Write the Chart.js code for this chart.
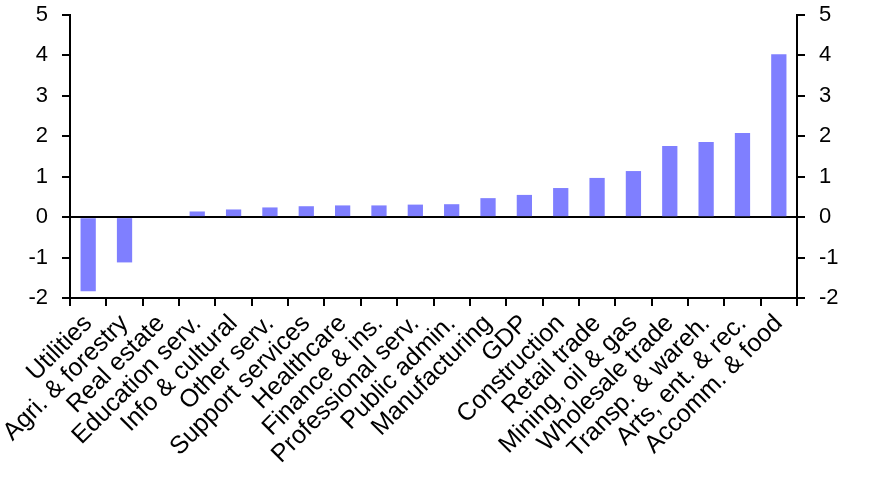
<!DOCTYPE html>
<html>
<head>
<meta charset="utf-8">
<script src="https://cdn.jsdelivr.net/npm/chart.js@4/dist/chart.umd.min.js"></script>
<style>
html,body{margin:0;padding:0;background:#fff;}
#wrap{width:871px;height:481px;}
</style>
</head>
<body>
<div id="wrap"><canvas id="c" width="871" height="481"></canvas></div>
<script>
const categories = ["Utilities","Agri. & forestry","Real estate","Education serv.","Info & cultural","Other serv.","Support services","Healthcare","Finance & ins.","Professional serv.","Public admin.","Manufacturing","GDP","Construction","Retail trade","Mining, oil & gas","Wholesale trade","Transp. & wareh.","Arts, ent. & rec.","Accomm. & food"];
const values = [-1.83,-1.12,0,0.14,0.19,0.24,0.27,0.29,0.29,0.31,0.32,0.47,0.55,0.72,0.97,1.14,1.76,1.86,2.08,4.03];
const yTicks = [-2,-1,0,1,2,3,4,5];

const fontFam = "'Liberation Sans', Arial, sans-serif";
new Chart(document.getElementById('c'), {
  type: 'bar',
  data: {
    labels: categories,
    datasets: [{data: values, backgroundColor: '#7f7fff', categoryPercentage: 1, barPercentage: 0.42, yAxisID: 'y'}]
  },
  options: {
    responsive: false,
    animation: false,
    devicePixelRatio: 1,
    layout: {padding: {left: 4, right: 0, top: 15, bottom: 0}},
    plugins: {legend: {display: false}, tooltip: {enabled: false}},
    scales: {
      x: {
        offset: true,
        afterFit: s => { s.height = 183; s.paddingLeft = 0; s.paddingRight = 0; },
        grid: {display: true, drawOnChartArea: false, offset: true, color: '#000', tickColor: '#000', tickLength: 8, lineWidth: 2},
        border: {display: true, color: '#000', width: 2},
        ticks: {color: '#000', font: {family: fontFam, size: 25}, minRotation: 45, maxRotation: 45, autoSkip: false, padding: 3}
      },
      y: {
        position: 'left',
        min: -2, max: 5,
        afterBuildTicks: s => { s.ticks = yTicks.map(v => ({value: v})); },
        afterFit: s => { s.width = 66; s.paddingTop = 11; s.paddingBottom = 11; },
        grid: {display: true, drawOnChartArea: true, color: c => (c.tick && c.tick.value === 0) ? '#000' : 'rgba(0,0,0,0)', tickColor: '#000', tickLength: 8, lineWidth: 2},
        border: {display: true, color: '#000', width: 2},
        ticks: {color: '#000', font: {family: fontFam, size: 22}, padding: 14}
      },
      y2: {
        position: 'right',
        min: -2, max: 5,
        afterBuildTicks: s => { s.ticks = yTicks.map(v => ({value: v})); },
        afterFit: s => { s.width = 74; s.paddingTop = 11; s.paddingBottom = 11; },
        grid: {display: true, drawOnChartArea: false, color: '#000', tickColor: '#000', tickLength: 8, lineWidth: 2},
        border: {display: true, color: '#000', width: 2},
        ticks: {color: '#000', font: {family: fontFam, size: 22}, padding: 14}
      }
    }
  }
});
</script>
</body>
</html>
